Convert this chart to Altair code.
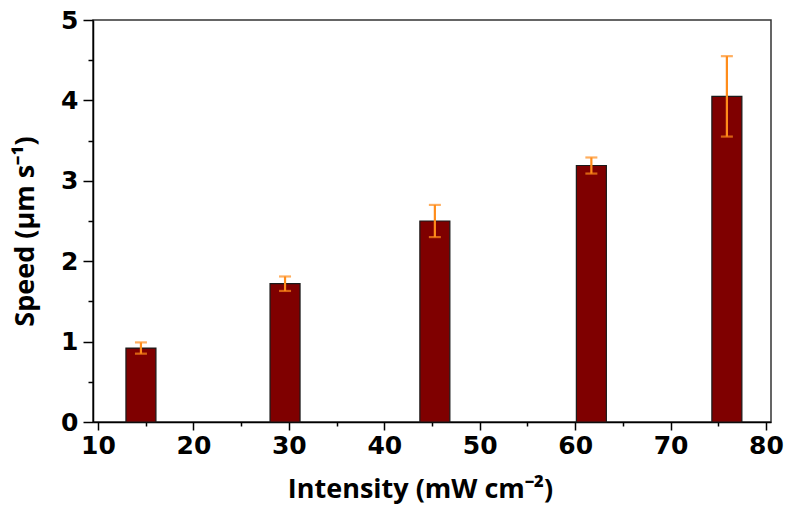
import altair as alt
import pandas as pd

intensity = [14.5, 29.6, 45.3, 61.7, 75.9]
speed = [0.92, 1.72, 2.50, 3.19, 4.05]
err = [0.07, 0.09, 0.20, 0.10, 0.50]

df = pd.DataFrame({
    "intensity": intensity,
    "speed": speed,
    "lo": [s - e for s, e in zip(speed, err)],
    "hi": [s + e for s, e in zip(speed, err)],
})

LABEL_FONT = "DejaVu Sans"
TITLE_FONT = "Open Sans"
ORANGE = "#ff8c1a"

xscale = alt.Scale(domain=[10, 80], nice=False, zero=False)
yscale = alt.Scale(domain=[0, 5], nice=False)

x_major = alt.Axis(values=[10, 20, 30, 40, 50, 60, 70, 80], title="Intensity (mW cm⁻²)",
                   orient="bottom", grid=False, domainColor="black", domainWidth=1.5,
                   tickColor="black", tickWidth=1.5, tickSize=8, labelFont=LABEL_FONT,
                   labelFontSize=25, labelFontWeight="bold", labelColor="black", labelPadding=3,
                   titleFont=TITLE_FONT, titleFontSize=27, titleFontWeight="bold",
                   titleColor="black", titleX=327, titleY=75, titleBaseline="alphabetic")
y_major = alt.Axis(values=[0, 1, 2, 3, 4, 5], title="Speed (μm s⁻¹)", orient="left",
                   grid=False, domainColor="black", domainWidth=1.5, tickColor="black",
                   tickWidth=1.5, tickSize=10, labelFont=LABEL_FONT, labelFontSize=25,
                   labelFontWeight="bold", labelColor="black", labelPadding=5,
                   titleFont=TITLE_FONT, titleFontSize=27, titleFontWeight="bold",
                   titleColor="black", titleY=211, titleX=-54)

x_minor = alt.Axis(values=[15, 25, 35, 45, 55, 65, 75], labels=False, title=None,
                   orient="bottom", grid=False, domain=False, tickColor="black",
                   tickWidth=1.5, tickSize=4)
y_minor = alt.Axis(values=[0.5, 1.5, 2.5, 3.5, 4.5], labels=False, title=None,
                   orient="left", grid=False, domain=False, tickColor="black",
                   tickWidth=1.5, tickSize=5)

bars = alt.Chart(df).mark_bar(size=30, color="#7f0000", stroke="#1a1a1a", strokeWidth=1.2).encode(
    x=alt.X("intensity:Q", scale=xscale, axis=x_major),
    y=alt.Y("speed:Q", scale=yscale, axis=y_major),
)

minor = alt.Chart(df).mark_point(opacity=0).encode(
    x=alt.X("intensity:Q", scale=xscale, axis=x_minor),
    y=alt.Y("speed:Q", scale=yscale, axis=y_minor),
)

noaxis_x = alt.X("intensity:Q", scale=xscale, axis=None)

err_rule = alt.Chart(df).mark_rule(color=ORANGE, strokeWidth=2.2).encode(
    x=noaxis_x,
    y=alt.Y("lo:Q", scale=yscale, axis=None),
    y2="hi:Q",
)
cap_hi = alt.Chart(df).mark_tick(color=ORANGE, orient="horizontal", size=12, thickness=2.2).encode(
    x=noaxis_x,
    y=alt.Y("hi:Q", scale=yscale, axis=None),
)
cap_lo = alt.Chart(df).mark_tick(color=ORANGE, orient="horizontal", size=12, thickness=2.2).encode(
    x=noaxis_x,
    y=alt.Y("lo:Q", scale=yscale, axis=None),
)

chart = alt.layer(bars, minor, err_rule, cap_hi, cap_lo).resolve_axis(
    x="independent", y="independent"
).properties(
    width=678, height=402,
    autosize=alt.AutoSizeParams(type="none"),
    padding={"left": 93, "top": 20, "right": 22, "bottom": 84},
    background="white",
).configure_view(stroke="#333333", strokeWidth=1.5)

chart.save("out.html", embed_options={"renderer": "svg", "actions": False})
